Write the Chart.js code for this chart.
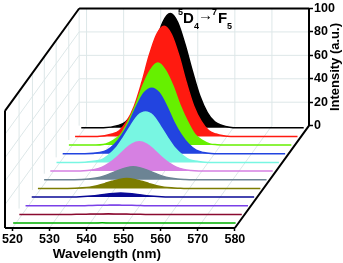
<!DOCTYPE html>
<html>
<head>
<meta charset="utf-8">
<script src="https://cdn.jsdelivr.net/npm/chart.js@4"></script>
<style>
  html, body { margin: 0; padding: 0; background: #fff; }
  canvas { display: block; }
</style>
</head>
<body>
<canvas id="chart" width="343" height="263"></canvas>
<script>
const wavelengths = [520, 526, 530, 532, 534, 536, 538, 540, 542, 544, 546, 548, 550, 552, 554, 556, 558, 560, 562, 566, 572, 580];
const xTicks = [520, 530, 540, 550, 560, 570, 580];
const yTicks = [0, 20, 40, 60, 80, 100];

// front to back
const s1 = [0, 0, 0, 0, 0, 0, 0, 0.1, 0.1, 0.2, 0.1, 0.1, 0, 0, 0, 0, 0, 0, 0, 0, 0, 0];
const s2 = [0, 0, 0, 0, 0, 0.1, 0.2, 0.3, 0.4, 0.5, 0.4, 0.3, 0.2, 0.1, 0, 0, 0, 0, 0, 0, 0, 0];
const s3 = [0, 0, 0, 0, 0, 0.1, 0.3, 0.4, 0.5, 0.6, 0.5, 0.4, 0.3, 0.1, 0, 0, 0, 0, 0, 0, 0, 0];
const s4 = [0, 0, 0, 0.1, 0.4, 0.9, 1.6, 2.5, 3.1, 3.4, 3.1, 2.5, 1.6, 0.9, 0.4, 0.1, 0, 0, 0, 0, 0, 0];
const s5 = [0, 0, 0.2, 0.5, 1.1, 2.3, 4.1, 6.1, 7.7, 8.4, 7.7, 6.1, 4.1, 2.3, 1.1, 0.5, 0.2, 0, 0, 0, 0, 0];
const s6 = [0, 0, 0.2, 0.6, 1.5, 3, 5.4, 8, 10, 11, 10, 8, 5.4, 3, 1.5, 0.6, 0.2, 0, 0, 0, 0, 0];
const s7 = [0, 0, 0.5, 1.4, 3.4, 7, 12, 18, 23, 25, 23, 18, 12, 7, 3.4, 1.4, 0.5, 0.1, 0, 0, 0, 0];
const s8 = [0, 0, 1, 2, 6, 12, 21, 31, 40, 43, 40, 31, 21, 12, 6, 2, 1, 0.2, 0, 0, 0, 0];
const s9 = [0, 0, 1, 3, 8, 16, 27, 41, 52, 56, 52, 41, 27, 16, 8, 3, 1, 0.2, 0, 0, 0, 0];
const s10 = [0, 0, 1, 4, 9, 20, 34, 51, 64, 70, 64, 51, 34, 20, 9, 4, 1, 0.3, 0, 0, 0, 0];
const s11 = [0, 0, 2, 5, 13, 26, 46, 69, 87, 94, 87, 69, 46, 26, 13, 5, 2, 0.5, 0, 0, 0, 0];
const s12 = [0, 0, 2, 5, 13, 27, 48, 71, 90, 97.5, 90, 71, 48, 27, 13, 5, 2, 0.5, 0, 0, 0, 0];
const series = [s1, s2, s3, s4, s5, s6, s7, s8, s9, s10, s11, s12];
const colors = ["#00b000", "#8a0a30", "#7a40e8", "#0a0a96", "#7c7c00", "#6c8494", "#d680e2", "#78f6e2", "#2244e0", "#66f000", "#ff1a10", "#000000"];

// the 3D box, in axis units
const xMin = 518, xMax = 600;
const shearX = 20, floorY = -87.4;
const stepX = 1.67, stepY = 7.4, frontX = 0.2, frontY = -83.2;
const wallFractions = [0.19, 0.37, 0.53, 0.69, 0.86];

function segments(list) {
  const pts = [];
  list.forEach(s => { pts.push({ x: s[0], y: s[1] }, { x: s[2], y: s[3] }, { x: s[2], y: null }); });
  return pts;
}

const gridSegs = [];
xTicks.forEach(t => {
  gridSegs.push([t + shearX, 0, t + shearX, 100]);
  gridSegs.push([t, floorY, t + shearX, 0]);
});
yTicks.slice(1, 5).forEach(l => {
  gridSegs.push([xMin + shearX, l, xMax, l]);
  gridSegs.push([xMin, floorY + l, xMin + shearX, l]);
});
gridSegs.push([xMin + shearX, 0, xMin + shearX, 100]);
wallFractions.forEach(f => {
  gridSegs.push([xMin + shearX * f, floorY * (1 - f), xMin + shearX * f, floorY * (1 - f) + 100]);
});

const frameSegs = [
  [xMin, floorY, 580, floorY],
  [xMin, floorY, xMin, floorY + 100],
  [xMin, floorY + 100, xMin + shearX, 100],
  [xMin + shearX, 100, xMax, 100],
  [xMax, 0, xMax, 100],
  [580, floorY, xMax, 0]
];

const datasets = [{
  data: segments(gridSegs), borderColor: "#dde7e8", borderWidth: 1,
  pointRadius: 0, spanGaps: false, order: 100
}];
series.forEach((vals, k) => {
  const base = frontY + k * stepY;
  datasets.push({
    data: vals.map((v, i) => ({ x: wavelengths[i] + frontX + k * stepX, y: base + v })),
    borderColor: colors[k],
    backgroundColor: colors[k],
    borderWidth: 1.5,
    pointRadius: 0,
    cubicInterpolationMode: "monotone",
    fill: { value: base },
    order: 50 + k
  });
});
datasets.push({
  data: segments(frameSegs), borderColor: "#000", borderWidth: 2,
  pointRadius: 0, spanGaps: false, clip: false, order: -1
});

const labelPlugin = {
  id: "labels",
  afterDraw(c) {
    const ctx = c.ctx;
    const piece = (txt, x, y, size) => {
      ctx.font = "bold " + size + "px 'Liberation Sans'";
      ctx.fillText(txt, x, y);
    };
    ctx.save();
    ctx.fillStyle = "#000";
    ctx.textBaseline = "middle";
    ctx.textAlign = "left";
    piece("5", 178, 13, 9);
    piece("D", 183, 19, 15);
    piece("4", 194, 27, 9);
    piece("→", 198, 16, 15);
    piece("7", 212, 13, 9);
    piece("F", 218, 19, 15);
    piece("5", 227, 27, 9);
    // both titles sit off the middle of the sheared plot area
    ctx.textAlign = "center";
    piece("Wavelength (nm)", c.scales.x.getPixelForValue(545.5), 254, 13.5);
    ctx.translate(335, c.scales.y.getPixelForValue(50));
    ctx.rotate(-Math.PI / 2);
    piece("Intensity (a.u.)", 0, 0, 13);
    ctx.restore();
  }
};

const tickFont = { family: "'Liberation Sans'", weight: "bold", size: 12.5 };

new Chart(document.getElementById("chart"), {
  type: "line",
  data: { datasets: datasets },
  plugins: [labelPlugin],
  options: {
    responsive: false,
    animation: false,
    layout: { padding: { left: 5, top: 5 } },
    plugins: { legend: { display: false }, tooltip: { enabled: false } },
    scales: {
      x: {
        type: "linear",
        min: xMin,
        max: xMax,
        afterBuildTicks: s => { s.ticks = xTicks.map(v => ({ value: v })); },
        afterFit: s => { s.height = 35; },
        border: { display: false },
        grid: { drawOnChartArea: false, tickLength: 3, tickColor: "#000", tickWidth: 1.5 },
        ticks: { color: "#000", font: tickFont, padding: 1, maxRotation: 0, autoSkip: false }
      },
      y: {
        position: "right",
        min: floorY,
        max: 100,
        afterBuildTicks: s => { s.ticks = yTicks.map(v => ({ value: v })); },
        afterFit: s => { s.width = 34; },
        border: { display: false },
        grid: { drawOnChartArea: false, tickLength: 4, tickColor: "#000", tickWidth: 1.5 },
        ticks: { color: "#000", font: tickFont, padding: 1, autoSkip: false }
      }
    }
  }
});
</script>
</body>
</html>
